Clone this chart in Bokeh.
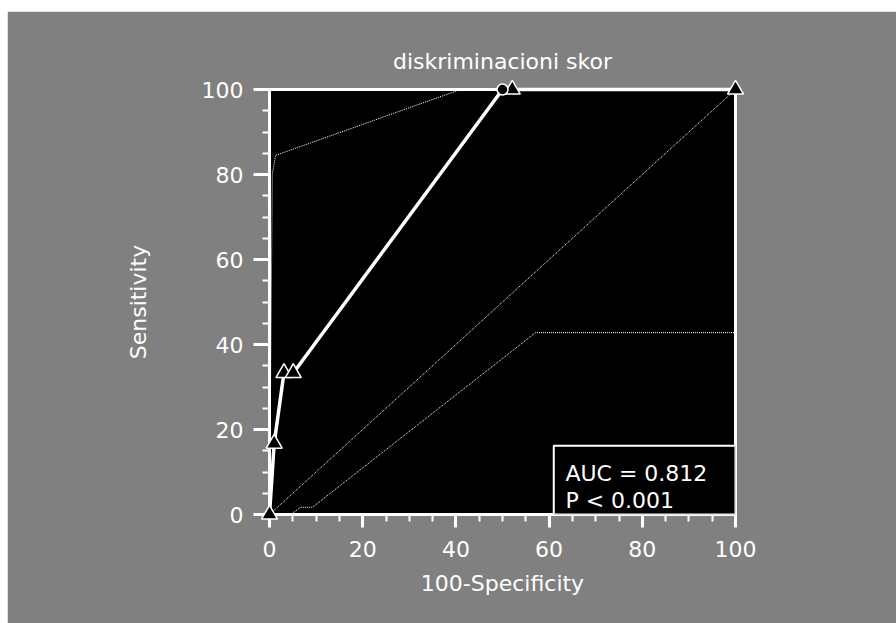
from bokeh.plotting import figure
from bokeh.models import FixedTicker, BoxAnnotation, Label
from bokeh.core.properties import value
from bokeh.embed import file_html
from bokeh.resources import INLINE

# ROC curve points (100-Specificity, Sensitivity)
roc_x = [0, 1.0, 3.1, 5.1, 50.0, 52.1, 100]
roc_y = [0, 16.7, 33.3, 33.3, 100, 100, 100]
tri_x = [0, 1.0, 3.1, 5.1, 52.1, 100]
tri_y = [0, 16.7, 33.3, 33.3, 100, 100]
circ_x = [50.0]
circ_y = [100]

# 95% confidence bounds
upper_x = [0, 0.6, 1.3, 41.0, 100]
upper_y = [0, 80.0, 84.5, 100, 100]
lower_x = [0, 4.5, 6.7, 9.2, 57.1, 100]
lower_y = [0, 0, 1.7, 1.7, 42.8, 42.8]
diag_x = [0, 100]
diag_y = [0, 100]

ticks = [0, 20, 40, 60, 80, 100]
minor = list(range(0, 101, 5))

title_text = "diskriminacioni skor"
x_label = "100-Specificity"
y_label = "Sensitivity"
auc_text = "AUC = 0.812"
p_text = "P < 0.001"

FONT = "DejaVu Sans"
FS = "22px"
GRAY = "#808080"

p = figure(width=889, height=612, x_range=(0, 100), y_range=(0, 100),
           output_backend="svg", toolbar_location=None,
           background_fill_color="black", border_fill_color=GRAY,
           min_border_left=262, min_border_right=161,
           min_border_top=78, min_border_bottom=109)
p.margin = (11, 0, 0, 7)
p.outline_line_color = "white"
p.outline_line_width = 3
p.grid.visible = False

for ax in (p.xaxis[0], p.yaxis[0]):
    ax.ticker = FixedTicker(ticks=ticks, minor_ticks=minor)
    ax.axis_line_color = "white"
    ax.axis_line_width = 3
    ax.major_tick_line_color = "white"
    ax.major_tick_line_width = 3
    ax.minor_tick_line_color = "white"
    ax.minor_tick_line_width = 2
    ax.major_tick_in = 0
    ax.minor_tick_in = 0
    ax.major_label_text_color = "white"
    ax.major_label_text_font = FONT
    ax.major_label_text_font_size = FS
    ax.axis_label_text_color = "white"
    ax.axis_label_text_font = FONT
    ax.axis_label_text_font_size = FS
    ax.axis_label_text_font_style = "normal"

p.xaxis.major_tick_out = 13
p.xaxis.minor_tick_out = 7
p.yaxis.major_tick_out = 16
p.yaxis.minor_tick_out = 7
p.xaxis.major_label_standoff = 13
p.yaxis.major_label_standoff = 10
p.xaxis.axis_label = x_label
p.yaxis.axis_label = y_label
p.xaxis.axis_label_standoff = 11
p.yaxis.axis_label_standoff = 48

# title, drawn as an unclipped text glyph just above the frame
p.text(x=[50], y=[106.6], text=[title_text], text_color="white",
       text_font=value(FONT), text_font_size=FS, text_align="center",
       text_baseline="alphabetic", level="overlay")

# confidence bounds and diagonal
p.line(upper_x, upper_y, line_color="white", line_width=1, line_dash="1 1")
p.line(lower_x, lower_y, line_color="white", line_width=1, line_dash="1 1")
p.line(diag_x, diag_y, line_color="white", line_width=1, line_dash="1 1")

# AUC box
box = BoxAnnotation(left=61, right=100, bottom=0, top=16.2,
                    fill_color="black", fill_alpha=1.0,
                    line_color="white", line_alpha=1.0, line_width=2)
p.add_layout(box)
p.add_layout(Label(x=63.5, y=9.6, text=auc_text, text_color="white",
                   text_font=FONT, text_font_size=FS, text_baseline="alphabetic"))
p.add_layout(Label(x=63.5, y=3.3, text=p_text, text_color="white",
                   text_font=FONT, text_font_size=FS, text_baseline="alphabetic"))

# ROC curve (drawn above the axes so end markers are not clipped)
p.line(roc_x, roc_y, line_color="white", line_width=3.5, level="overlay")
p.scatter(tri_x, tri_y, marker="triangle", size=16, fill_color="black",
          line_color="white", line_width=1.5, level="overlay")
p.scatter(circ_x, circ_y, marker="circle", size=11, fill_color="black",
          line_color="white", line_width=1.5, level="overlay")

open("out.html", "w").write(file_html(p, INLINE))
